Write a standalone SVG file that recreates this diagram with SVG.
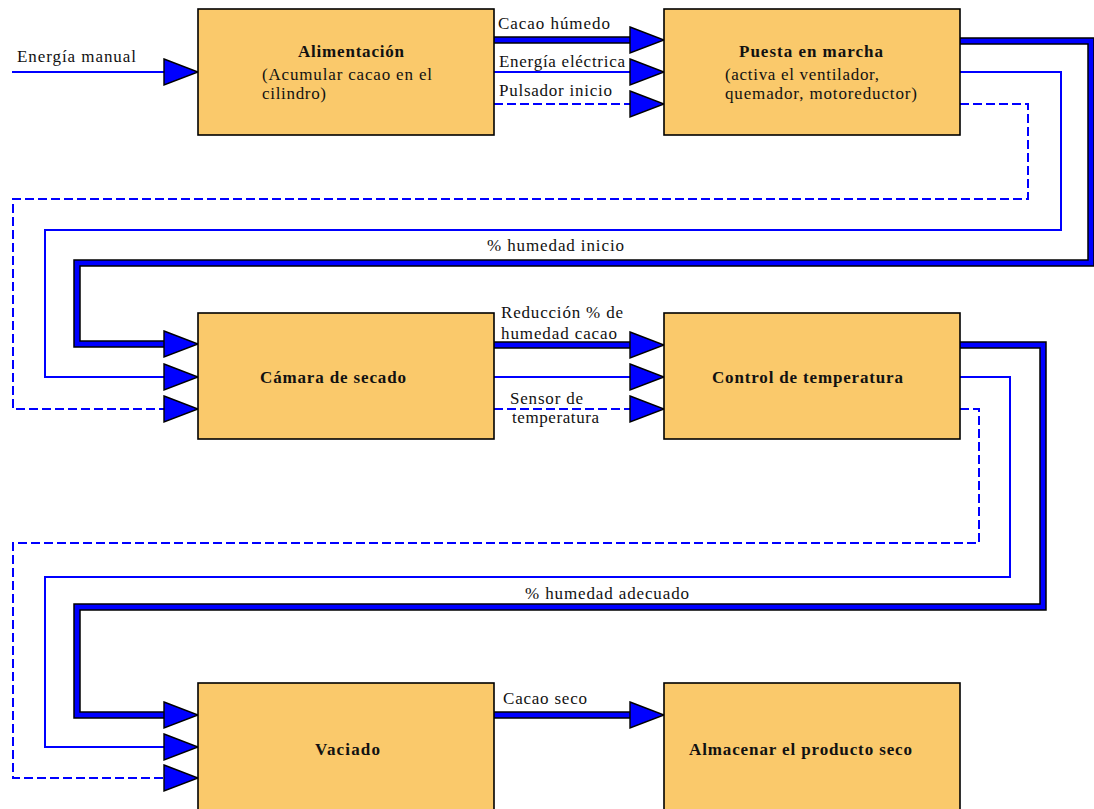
<svg xmlns="http://www.w3.org/2000/svg" xmlns:xlink="http://www.w3.org/1999/xlink" width="1094" height="809" viewBox="0 0 1094 809">
<style>
.box{fill:#FAC96B;stroke:#000;stroke-width:1.6}
.t{font-family:"Liberation Serif","Times New Roman",serif;font-size:17px;fill:#111}
.b{font-weight:bold}
.thin{fill:none;stroke:#0000FF;stroke-width:2}
.dash{fill:none;stroke:#0000FF;stroke-width:2;stroke-dasharray:9 4}
.thkO{fill:none;stroke:#000;stroke-width:7.5;stroke-linejoin:miter}
.thkI{fill:none;stroke:#0000FF;stroke-width:4.5;stroke-linejoin:miter}
.ah{fill:#0000FF;stroke:#000;stroke-width:1.4;stroke-linejoin:miter}
</style>
<defs>
<polygon id="ah" class="ah" points="-34,-13 0,0 -34,13"/>
</defs>
<rect width="1094" height="809" fill="#fff"/>
<g id="connectors">
<!-- top row -->
<line class="thin" x1="12" y1="72" x2="166" y2="72"/>
<path class="thkO" d="M494,40 H634"/>
<path class="thkI" d="M494,40 H634"/>
<line class="thin" x1="494" y1="72" x2="634" y2="72"/>
<line class="dash" x1="494" y1="104" x2="634" y2="104"/>
<path class="thkO" d="M960,41 H1091 V263 H77 V344 H166"/>
<path class="thkI" d="M960,41 H1091 V263 H77 V344 H166"/>
<path class="thin" d="M960,72 H1061 V230 H45 V377 H166"/>
<path class="dash" d="M960,104 H1028 V199 H13 V409 H166"/>
<!-- middle row -->
<path class="thkO" d="M494,345 H634"/>
<path class="thkI" d="M494,345 H634"/>
<line class="thin" x1="494" y1="377" x2="634" y2="377"/>
<line class="dash" x1="494" y1="409" x2="634" y2="409"/>
<path class="thkO" d="M960,345 H1043 V607 H77 V715 H166"/>
<path class="thkI" d="M960,345 H1043 V607 H77 V715 H166"/>
<path class="thin" d="M960,377 H1010 V577 H45 V747 H166"/>
<path class="dash" d="M960,409 H979 V543 H13 V778 H166"/>
<!-- bottom row -->
<path class="thkO" d="M494,715 H634"/>
<path class="thkI" d="M494,715 H634"/>
<!-- arrowheads -->
<use xlink:href="#ah" x="198" y="72"/>
<use xlink:href="#ah" x="664" y="40"/>
<use xlink:href="#ah" x="664" y="72"/>
<use xlink:href="#ah" x="664" y="104"/>
<use xlink:href="#ah" x="198" y="344"/>
<use xlink:href="#ah" x="198" y="377"/>
<use xlink:href="#ah" x="198" y="409"/>
<use xlink:href="#ah" x="664" y="345"/>
<use xlink:href="#ah" x="664" y="377"/>
<use xlink:href="#ah" x="664" y="409"/>
<use xlink:href="#ah" x="198" y="715"/>
<use xlink:href="#ah" x="198" y="747"/>
<use xlink:href="#ah" x="198" y="778"/>
<use xlink:href="#ah" x="664" y="715"/>
<!-- labels -->
<text class="t" x="17" y="62" textLength="119" lengthAdjust="spacing">Energía manual</text>
<text class="t" x="498" y="29" textLength="112" lengthAdjust="spacing">Cacao húmedo</text>
<text class="t" x="499" y="67" textLength="126" lengthAdjust="spacing">Energía eléctrica</text>
<text class="t" x="499" y="96" textLength="113" lengthAdjust="spacing">Pulsador inicio</text>
<text class="t" x="487" y="251" textLength="137" lengthAdjust="spacing">% humedad inicio</text>
<text class="t" x="501" y="318" textLength="122" lengthAdjust="spacing">Reducción % de</text>
<text class="t" x="501" y="339" textLength="116" lengthAdjust="spacing">humedad cacao</text>
<text class="t" x="510" y="404" textLength="73" lengthAdjust="spacing">Sensor de</text>
<text class="t" x="512" y="423" textLength="87" lengthAdjust="spacing">temperatura</text>
<text class="t" x="525" y="599" textLength="164" lengthAdjust="spacing">% humedad adecuado</text>
<text class="t" x="503" y="704" textLength="84" lengthAdjust="spacing">Cacao seco</text>
</g>
<g id="alimentacion">
<rect class="box" x="198" y="9" width="296" height="126"/>
<text class="t b" x="298" y="57" textLength="106" lengthAdjust="spacing">Alimentación</text>
<text class="t" x="262" y="80" textLength="170" lengthAdjust="spacing">(Acumular cacao en el</text>
<text class="t" x="262" y="99" textLength="64" lengthAdjust="spacing">cilindro)</text>
</g>
<g id="puesta">
<rect class="box" x="664" y="9" width="296" height="126"/>
<text class="t b" x="739" y="57" textLength="144" lengthAdjust="spacing">Puesta en marcha</text>
<text class="t" x="725" y="80" textLength="154" lengthAdjust="spacing">(activa el ventilador,</text>
<text class="t" x="725" y="99" textLength="192" lengthAdjust="spacing">quemador, motoreductor)</text>
</g>
<g id="camara">
<rect class="box" x="198" y="313" width="296" height="126"/>
<text class="t b" x="260" y="383" textLength="146" lengthAdjust="spacing">Cámara de secado</text>
</g>
<g id="control">
<rect class="box" x="664" y="313" width="296" height="126"/>
<text class="t b" x="712" y="383" textLength="191" lengthAdjust="spacing">Control de temperatura</text>
</g>
<g id="vaciado">
<rect class="box" x="198" y="683" width="296" height="130"/>
<text class="t b" x="315" y="755" textLength="65" lengthAdjust="spacing">Vaciado</text>
</g>
<g id="almacenar">
<rect class="box" x="664" y="683" width="296" height="130"/>
<text class="t b" x="689" y="755" textLength="223" lengthAdjust="spacing">Almacenar el producto seco</text>
</g>
</svg>
